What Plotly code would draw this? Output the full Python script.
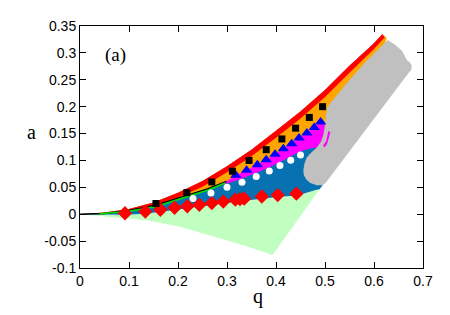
import plotly.graph_objects as go

# ---- tick labels ----
x_tickvals = [0, 0.1, 0.2, 0.3, 0.4, 0.5, 0.6, 0.7]
x_ticktext = ["0", "0.1", "0.2", "0.3", "0.4", "0.5", "0.6", "0.7"]
y_tickvals = [-0.1, -0.05, 0, 0.05, 0.1, 0.15, 0.2, 0.25, 0.3, 0.35]
y_ticktext = ["-0.1", "-0.05", "0", "0.05", "0.1", "0.15", "0.2", "0.25", "0.3", "0.35"]

# ---- marker series ----
sq_q = [0.155, 0.218, 0.269, 0.311, 0.345, 0.380, 0.412, 0.440, 0.468, 0.495]
sq_a = [0.020, 0.040, 0.060, 0.080, 0.100, 0.120, 0.140, 0.160, 0.180, 0.200]

tri_q = [0.318, 0.340, 0.362, 0.380, 0.398, 0.415, 0.432, 0.447, 0.463, 0.478, 0.491]
tri_a = [0.0725, 0.0816, 0.0918, 0.1014, 0.1116, 0.1218, 0.131, 0.1416, 0.151, 0.1614, 0.1716]

circ_q = [0.2306, 0.2673, 0.300, 0.3306, 0.3596, 0.3863, 0.408, 0.430, 0.450]
circ_a = [0.0293, 0.0396, 0.050, 0.0594, 0.0702, 0.0805, 0.0904, 0.1004, 0.110]

dia_q = [0.0918, 0.1333, 0.164, 0.193, 0.219, 0.2435, 0.269, 0.2924, 0.317, 0.3265, 0.335, 0.371, 0.4035, 0.4416]
dia_a = [0.0018, 0.005, 0.0083, 0.012, 0.0148, 0.0175, 0.0207, 0.0236, 0.027, 0.028, 0.029, 0.033, 0.0356, 0.0383]

# ---- region boundaries ----
top_q = [0, 0.05, 0.10, 0.15, 0.20, 0.25, 0.30, 0.35, 0.40, 0.45, 0.50, 0.55, 0.60, 0.617]
top_a = [0, 0.003, 0.0095, 0.022, 0.040, 0.062, 0.089, 0.120, 0.155, 0.191, 0.231, 0.276, 0.318, 0.3348]

red_in_q = [0, 0.05, 0.10, 0.15, 0.20, 0.25, 0.30, 0.35, 0.40, 0.45, 0.50, 0.55, 0.60, 0.622]
red_in_a = [0, 0.002, 0.0065, 0.016, 0.031, 0.051, 0.078, 0.108, 0.142, 0.178, 0.218, 0.263, 0.307, 0.329]

black_q = [0, 0.05, 0.10, 0.155, 0.218, 0.26, 0.299]
black_a = [0, 0.0015, 0.0068, 0.0168, 0.035, 0.047, 0.061]

green_q = [0.04, 0.10, 0.155, 0.218, 0.26, 0.296]
green_a = [0.001, 0.0055, 0.0145, 0.0325, 0.0445, 0.058]

orange_right_q = [0.500, 0.54, 0.60, 0.626]
orange_right_a = [0.1656, 0.20, 0.25, 0.328]

mag_low_q = [0.26, 0.28, 0.30, 0.33, 0.36, 0.386, 0.408, 0.43, 0.45, 0.47, 0.49, 0.54]
mag_low_a = [0.047, 0.052, 0.057, 0.066, 0.077, 0.087, 0.097, 0.107, 0.117, 0.122, 0.125, 0.20]

blue_low_q = [0, 0.05, 0.0918, 0.133, 0.164, 0.193, 0.219, 0.2435, 0.269, 0.292, 0.317, 0.335, 0.371, 0.4035, 0.4286, 0.4416, 0.483, 0.489]
blue_low_a = [0, 0.0, -0.001, 0.001, 0.004, 0.008, 0.011, 0.0135, 0.0165, 0.0195, 0.023, 0.025, 0.029, 0.032, 0.0337, 0.0345, 0.0455, 0.0465]
blue_right_q = [0.505, 0.54, 0.60]
blue_right_a = [0.066, 0.12, 0.25]

lg_low_q = [0, 0.068, 0.136, 0.204, 0.272, 0.34, 0.393]
lg_low_a = [0, -0.005, -0.011, -0.0234, -0.0414, -0.0594, -0.0756]

gray_q = [0.628, 0.642, 0.657, 0.665, 0.668, 0.673, 0.677, 0.676, 0.672, 0.502, 0.495, 0.483, 0.470, 0.4627,
          0.457, 0.4557, 0.458, 0.4627, 0.472, 0.483, 0.492, 0.4966, 0.499, 0.500, 0.502, 0.505, 0.544, 0.585]
gray_a = [0.324, 0.316, 0.304, 0.292, 0.2856, 0.2826, 0.276, 0.268, 0.2646, 0.059, 0.054, 0.054, 0.058, 0.0635,
          0.072, 0.0815, 0.094, 0.1056, 0.115, 0.1236, 0.135, 0.1476, 0.158, 0.1656, 0.185, 0.200, 0.2436, 0.2856]

streak_q = [0.507, 0.511, 0.504, 0.499, 0.496, 0.502]
streak_a = [0.155, 0.152, 0.130, 0.124, 0.128, 0.135]

C_RED = "#ff0000"
C_ORANGE = "#ffa500"
C_MAG = "#ff00ff"
C_BLUE = "#0672b1"
C_GRAY = "#c0c0c0"
C_LG = "#c0ffc0"

fig = go.Figure()


def poly(xs, ys, color):
    fig.add_trace(go.Scatter(x=xs + [xs[0]], y=ys + [ys[0]], mode="lines", fill="toself",
                             fillcolor=color, line=dict(width=0, color=color),
                             hoverinfo="skip", showlegend=False))


rev = lambda l: list(reversed(l))

# light green
poly(lg_low_q + rev(blue_low_q), lg_low_a + rev(blue_low_a), C_LG)
# blue
poly(blue_low_q + blue_right_q + rev(top_q), blue_low_a + blue_right_a + rev(top_a), C_BLUE)
# magenta
top_mag_q = [q for q in top_q if q >= 0.26]
top_mag_a = [a for q, a in zip(top_q, top_a) if q >= 0.26]
poly(mag_low_q + rev(top_mag_q), mag_low_a + rev(top_mag_a), C_MAG)
# orange
poly(black_q + tri_q + orange_right_q + rev(top_q), black_a + tri_a + orange_right_a + rev(top_a), C_ORANGE)
# red band
poly(top_q + rev(red_in_q), top_a + rev(red_in_a), C_RED)
# gray
poly(gray_q, gray_a, C_GRAY)
# magenta streak
poly(streak_q, streak_a, C_MAG)

# lines
fig.add_trace(go.Scatter(x=black_q, y=black_a, mode="lines", line=dict(color="black", width=1.5),
                         hoverinfo="skip", showlegend=False))
fig.add_trace(go.Scatter(x=green_q, y=green_a, mode="lines", line=dict(color="#00e000", width=1.5),
                         hoverinfo="skip", showlegend=False))

# markers
fig.add_trace(go.Scatter(x=dia_q, y=dia_a, mode="markers",
                         marker=dict(symbol="diamond", size=11, color="#ff0000", line=dict(width=0)),
                         showlegend=False))
fig.add_trace(go.Scatter(x=circ_q, y=circ_a, mode="markers",
                         marker=dict(symbol="circle", size=7, color="white", line=dict(width=0)),
                         showlegend=False))
fig.add_trace(go.Scatter(x=tri_q, y=tri_a, mode="markers",
                         marker=dict(symbol="triangle-up", size=10, color="#0000ff", line=dict(width=0)),
                         showlegend=False))
fig.add_trace(go.Scatter(x=sq_q, y=sq_a, mode="markers",
                         marker=dict(symbol="square", size=7, color="black", line=dict(width=0)),
                         showlegend=False))

axis_common = dict(showgrid=False, zeroline=False, showline=True, linecolor="black", linewidth=1,
                   mirror="ticks", ticks="inside", ticklen=6, tickcolor="black",
                   tickfont=dict(family="Liberation Sans, Arial, sans-serif", size=14, color="black"))

fig.update_xaxes(range=[0, 0.7], tickvals=x_tickvals, ticktext=x_ticktext, **axis_common)
fig.update_yaxes(range=[-0.1, 0.35], tickvals=y_tickvals, ticktext=y_ticktext, **axis_common)

serif = "Liberation Serif, Times New Roman, serif"
fig.update_layout(
    width=450, height=315,
    margin=dict(l=72, r=35, t=10, b=55),
    plot_bgcolor="white", paper_bgcolor="white",
    annotations=[
        dict(text="(a)", x=0.073, y=0.297, xref="x", yref="y", showarrow=False,
             xanchor="center", yanchor="middle",
             font=dict(family=serif, size=19, color="black")),
        dict(text="a", x=-0.14, y=0.56, xref="paper", yref="paper", showarrow=False,
             xanchor="center", yanchor="middle",
             font=dict(family=serif, size=20, color="black")),
        dict(text="q", x=0.519, y=-0.116, xref="paper", yref="paper", showarrow=False,
             xanchor="center", yanchor="middle",
             font=dict(family=serif, size=20, color="black")),
    ],
)

fig.write_html("out.html")
